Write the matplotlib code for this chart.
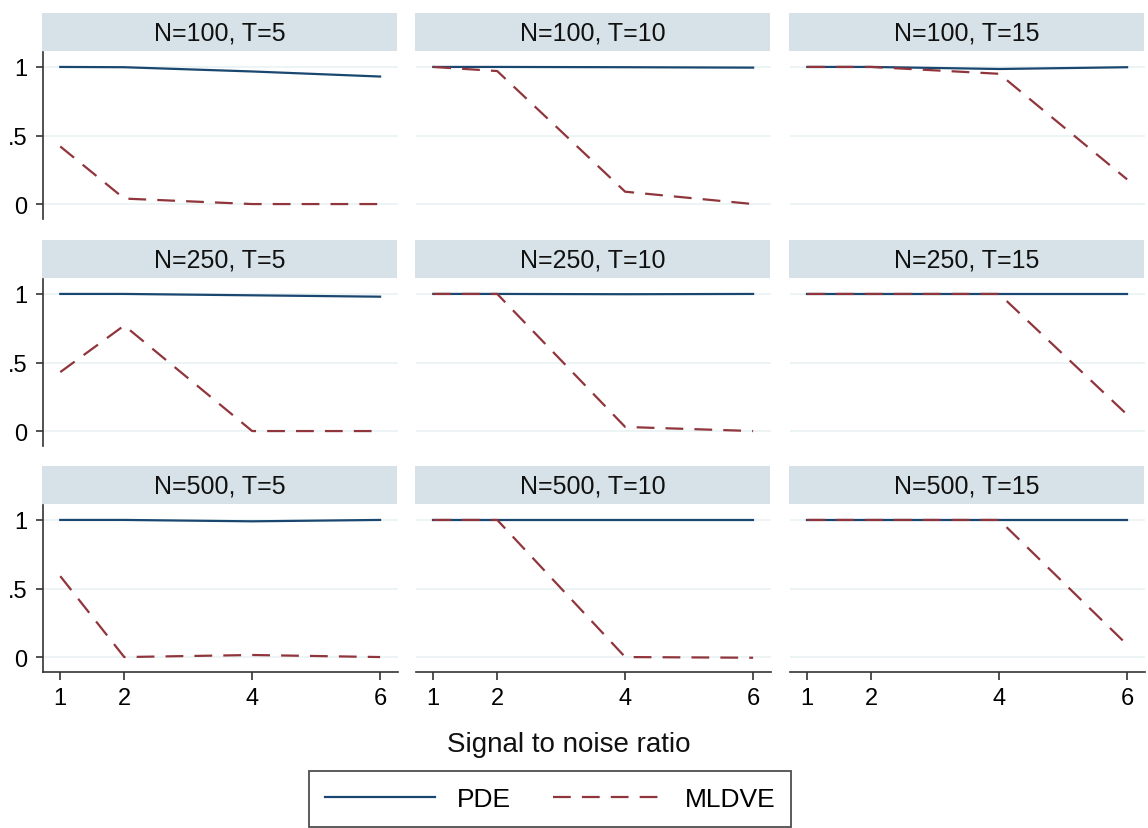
import matplotlib.pyplot as plt
import numpy as np

# Datos
snr = [1, 2, 4, 6]
N_vals = [100, 250, 500]
T_vals = [5, 10, 15]

pde = {
    (100, 5): [1.0, 0.998, 0.967, 0.93],
    (100, 10): [1.0, 1.0, 0.998, 0.995],
    (100, 15): [1.0, 1.0, 0.985, 0.998],
    (250, 5): [1.0, 1.0, 0.99, 0.98],
    (250, 10): [1.0, 1.0, 0.998, 1.0],
    (250, 15): [1.0, 1.0, 1.0, 1.0],
    (500, 5): [1.0, 1.0, 0.99, 1.0],
    (500, 10): [1.0, 1.0, 1.0, 1.0],
    (500, 15): [1.0, 1.0, 1.0, 1.0],
}
mldve = {
    (100, 5): [0.42, 0.04, 0.0, 0.0],
    (100, 10): [1.0, 0.97, 0.09, 0.0],
    (100, 15): [1.0, 1.0, 0.95, 0.18],
    (250, 5): [0.43, 0.77, 0.0, 0.0],
    (250, 10): [1.0, 1.0, 0.03, 0.0],
    (250, 15): [1.0, 1.0, 1.0, 0.12],
    (500, 5): [0.59, 0.0, 0.015, 0.0],
    (500, 10): [1.0, 1.0, 0.0, -0.005],
    (500, 15): [1.0, 1.0, 1.0, 0.09],
}

plt.rcParams['font.family'] = ['Liberation Sans', 'DejaVu Sans']

navy = '#1a476f'
maroon = '#90353b'
header_col = '#d6e2e7'
grid_col = '#eaf2f3'
axis_col = '#333333'

W, H = 1148, 829
fig = plt.figure(figsize=(W / 100, H / 100), dpi=100)

col_left = [43, 416, 790]
row_top = [53, 280, 506]
pw, ph = 355, 167
hh = 38

for i, n in enumerate(N_vals):
    for j, t in enumerate(T_vals):
        x0 = col_left[j]
        y0 = row_top[i]
        ax = fig.add_axes([x0 / W, 1 - (y0 + ph) / H, pw / W, ph / H])
        ax.plot(snr, pde[(n, t)], color=navy, lw=1.6, label='PDE')
        ax.plot(snr, mldve[(n, t)], color=maroon, lw=1.6,
                linestyle=(0, (8, 5)), label='MLDVE')
        ax.set_xlim(0.73, 6.28)
        ax.set_ylim(-0.109, 1.109)
        ax.set_yticks([0, 0.5, 1])
        ax.set_xticks(snr)
        for y in [0, 0.5, 1]:
            ax.axhline(y, color=grid_col, lw=1.2, zorder=0)
        for s in ['top', 'right']:
            ax.spines[s].set_visible(False)
        ax.spines['left'].set_visible(j == 0)
        ax.spines['bottom'].set_visible(i == 2)
        ax.spines['left'].set_color(axis_col)
        ax.spines['bottom'].set_color(axis_col)
        ax.spines['left'].set_linewidth(1.2)
        ax.spines['bottom'].set_linewidth(1.2)
        if j == 0:
            ax.set_yticklabels(['0', '.5', '1'])
            ax.tick_params(axis='y', length=5, width=1.2, color=axis_col,
                           labelsize=17, pad=6)
        else:
            ax.tick_params(axis='y', left=False, labelleft=False)
        if i == 2:
            ax.tick_params(axis='x', length=6, width=1.2, color=axis_col,
                           labelsize=17, pad=5)
        else:
            ax.tick_params(axis='x', bottom=False, labelbottom=False)

        # encabezado del panel
        hx = fig.add_axes([(x0 - 1) / W, 1 - (y0 - 1) / H, pw / W, hh / H])
        hx.set_facecolor(header_col)
        hx.set_xticks([])
        hx.set_yticks([])
        for s in hx.spines.values():
            s.set_visible(False)
        hx.text(0.5, 0.48, f'N={n}, T={t}', ha='center', va='center',
                fontsize=18, color='#111111', transform=hx.transAxes)

fig.text(569 / W, 1 - 745 / H, 'Signal to noise ratio', ha='center',
         va='center', fontsize=20, color='#111111')

handles, labels = ax.get_legend_handles_labels()
leg = fig.legend(handles, labels, loc='center', ncol=2,
                 bbox_to_anchor=(550 / W, 1 - 800 / H), fontsize=19,
                 frameon=True, fancybox=False, edgecolor='#222222',
                 handlelength=4.2, handletextpad=0.8, columnspacing=1.6,
                 borderpad=0.6)
leg.get_frame().set_linewidth(1.3)

plt.savefig('out.png', dpi=100)
